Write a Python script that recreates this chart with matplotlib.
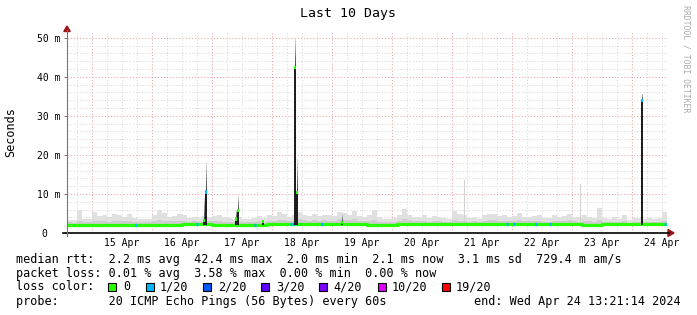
import matplotlib
matplotlib.use("Agg")
import matplotlib.pyplot as plt
import matplotlib.dates as mdates
from matplotlib.lines import Line2D
from matplotlib.patches import Polygon, Rectangle
import numpy as np
import pandas as pd

W, H = 697, 315

# graph window (rrdtool snaps the 10 day view to whole hours)
t_start = pd.Timestamp("2024-04-14 14:00")
t_end = pd.Timestamp("2024-04-24 14:00")
bin_hours = 2

# smoke and median per 2 hour bin, values in ms, one row per day
smoke_max = [
    3.4, 3.3, 5.9, 3.6, 3.7, 5.3, 4.4, 4.6, 4.0, 4.8, 4.5, 4.2,
    4.9, 3.9, 3.6, 3.7, 3.5, 4.6, 6.0, 5.2, 4.1, 4.3, 4.8, 4.6,
    3.9, 4.0, 3.8, 4.4, 4.2, 4.4, 4.6, 4.0, 3.8, 3.7, 4.1, 3.6,
    3.5, 3.9, 4.4, 3.8, 4.6, 4.4, 5.3, 4.8, 4.2, 4.5, 5.3, 4.6,
    4.4, 4.9, 4.3, 4.7, 4.5, 4.4, 5.4, 5.0, 4.5, 5.6, 4.3, 4.2,
    4.6, 5.8, 4.0, 3.5, 3.6, 3.8, 4.7, 6.2, 4.6, 4.2, 4.1, 4.6,
    3.9, 4.4, 4.0, 3.8, 3.7, 5.6, 4.8, 4.6, 3.8, 4.0, 3.7, 4.6,
    4.9, 4.8, 4.4, 4.6, 4.2, 4.3, 5.2, 4.1, 4.0, 4.3, 4.7, 3.9,
    3.8, 4.5, 4.0, 4.4, 4.8, 4.2, 4.0, 4.5, 4.1, 3.8, 6.3, 3.9,
    3.6, 4.0, 3.5, 4.6, 3.4, 3.8, 3.9, 3.7, 3.9, 3.6, 3.8, 5.3,
]
smoke_dense = [
    2.7, 2.6, 3.0, 2.8, 2.8, 3.1, 3.0, 3.2, 2.9, 3.2, 3.1, 3.0,
    3.2, 2.9, 2.8, 2.8, 2.7, 3.0, 3.3, 3.1, 3.0, 3.1, 3.2, 3.1,
    2.9, 3.0, 2.8, 3.1, 3.0, 3.0, 3.1, 2.9, 2.8, 2.8, 2.9, 2.7,
    2.7, 2.8, 3.1, 2.9, 3.2, 3.1, 3.4, 3.3, 3.1, 3.2, 3.5, 3.3,
    3.2, 3.4, 3.2, 3.3, 3.2, 3.2, 3.6, 3.4, 3.3, 3.5, 3.1, 3.1,
    3.2, 3.4, 2.9, 2.7, 2.7, 2.8, 3.2, 3.5, 3.3, 3.1, 3.0, 3.2,
    2.9, 3.1, 3.0, 2.9, 2.8, 3.3, 3.2, 3.2, 2.9, 3.0, 2.8, 3.2,
    3.3, 3.3, 3.1, 3.2, 3.0, 3.1, 3.4, 3.0, 3.0, 3.1, 3.2, 2.9,
    2.9, 3.1, 3.0, 3.1, 3.3, 3.0, 2.9, 3.1, 3.0, 2.8, 3.4, 2.9,
    2.7, 2.9, 2.7, 3.1, 2.6, 2.8, 2.9, 2.8, 2.9, 2.7, 2.8, 3.2,
]
median_rtt = [
    2.1, 2.1, 2.1, 2.0, 2.0, 2.0, 2.0, 2.0, 2.0, 2.0, 2.0, 2.0,
    2.0, 2.0, 2.0, 2.0, 2.0, 2.0, 2.0, 2.0, 2.1, 2.1, 2.1, 2.2,
    2.2, 2.2, 2.2, 2.2, 2.2, 2.1, 2.1, 2.1, 2.1, 2.1, 2.1, 2.1,
    2.1, 2.1, 2.1, 2.1, 2.2, 2.2, 2.2, 2.2, 2.2, 2.2, 2.2, 2.2,
    2.2, 2.2, 2.2, 2.2, 2.2, 2.2, 2.2, 2.2, 2.2, 2.2, 2.2, 2.2,
    2.1, 2.1, 2.0, 2.0, 2.0, 2.1, 2.2, 2.2, 2.2, 2.2, 2.2, 2.2,
    2.2, 2.2, 2.2, 2.2, 2.2, 2.2, 2.2, 2.2, 2.2, 2.2, 2.2, 2.2,
    2.3, 2.3, 2.3, 2.3, 2.3, 2.3, 2.3, 2.3, 2.3, 2.2, 2.2, 2.2,
    2.2, 2.2, 2.2, 2.2, 2.2, 2.2, 2.2, 2.1, 2.1, 2.1, 2.1, 2.2,
    2.2, 2.2, 2.2, 2.2, 2.2, 2.2, 2.2, 2.2, 2.2, 2.2, 2.2, 2.2,
]

# single rows that stick out (hours after t_start)
spike_hours = [54.4, 55.2, 67.2, 68.0, 78.0, 90.8, 91.6, 109.6, 229.6]
spike_median = [3.3, 10.5, 3.6, 5.7, 2.9, 42.4, 10.3, 2.7, 33.9]
spike_top = [9.0, 18.0, 6.0, 9.5, 3.4, 50.0, 19.0, 5.0, 35.7]
spike_loss = [0, 1, 0, 0, 0, 0, 0, 0, 1]

outlier_hours = [158.8, 205.2]
outlier_top = [13.5, 12.5]

# rows with 1/20 loss on the baseline
loss_hours = [27.2, 51.6, 74.8, 89.2, 90.0, 101.6, 175.6, 178.4, 187.2, 192.8, 238.8]

loss_labels = ["0", "1/20", "2/20", "3/20", "4/20", "10/20", "19/20"]
loss_colors = ["#26ff00", "#00b8ff", "#0059ff", "#5e00ff", "#7e00ff", "#dd00ff", "#ff0000"]

y_ticks = [0, 10, 20, 30, 40, 50]
y_tick_labels = ["0  ", "10 m", "20 m", "30 m", "40 m", "50 m"]
x_tick_labels = ["15 Apr", "16 Apr", "17 Apr", "18 Apr", "19 Apr",
                 "20 Apr", "21 Apr", "22 Apr", "23 Apr", "24 Apr"]

stats_rtt = "median rtt:  2.2 ms avg  42.4 ms max  2.0 ms min  2.1 ms now  3.1 ms sd  729.4 m am/s"
stats_loss = "packet loss: 0.01 % avg  3.58 % max  0.00 % min  0.00 % now"
probe_text = "probe:       20 ICMP Echo Pings (56 Bytes) every 60s"
end_text = "end: Wed Apr 24 13:21:14 2024"

plt.rcParams["font.family"] = ["DejaVu Sans Mono"]

x0 = mdates.date2num(t_start.to_pydatetime())


def hx(h):
    return x0 + np.asarray(h, dtype=float) / 24.0


def fx(x):
    return x / W


def fy(y):
    return 1 - y / H


fig = plt.figure(figsize=(W / 100, H / 100), dpi=100, facecolor="white")
ax = fig.add_axes([fx(67), fy(233), 600 / W, (233 - 31.5) / H])
ax.set_facecolor("white")
ax.set_xlim(hx(0), hx(240))
ax.set_ylim(0, 201.5 / 3.906)
for s in ax.spines.values():
    s.set_visible(False)

# grid, light dotted like rrdtool
major_col = "#e6a8a8"
minor_col = "#dadada"
grid_ls = (0, (1.2, 2.0))
for d in pd.date_range("2024-04-14 18:00", t_end, freq="6h"):
    xd = mdates.date2num(d.to_pydatetime())
    col = major_col if d.hour == 0 else minor_col
    ax.axvline(xd, color=col, lw=0.7, ls=grid_ls, zorder=0)
for v in range(2, 52, 2):
    col = major_col if v % 10 == 0 else minor_col
    ax.axhline(v, color=col, lw=0.7, ls=grid_ls, zorder=0)

# smoke
edges = hx(np.arange(len(smoke_max) + 1) * bin_hours)
ax.fill_between(edges, 2.0, smoke_max + smoke_max[-1:], step="post",
                color="#e0e0e0", lw=0, zorder=1)
ax.fill_between(edges, 2.0, smoke_dense + smoke_dense[-1:], step="post",
                color="#cdcdcd", lw=0, zorder=1.5)
ax.bar(hx(outlier_hours), np.array(outlier_top) - 2.0, bottom=2.0,
       width=0.4 / 24, align="edge", color="#d2d2d2", lw=0, zorder=1.2)

# median line
ax.step(edges, median_rtt + median_rtt[-1:], where="post", color=loss_colors[0],
        lw=2.3, solid_capstyle="butt", zorder=3)
for h in loss_hours:
    m = median_rtt[int(h // bin_hours)]
    ax.plot([hx(h), hx(h + 0.8)], [m, m], color=loss_colors[1], lw=2.3,
            solid_capstyle="butt", zorder=3.5)

# spikes
bw = 0.8 / 24
for h, med, top, ls in zip(spike_hours, spike_median, spike_top, spike_loss):
    xs = hx(h)
    n = 8
    for k in range(n):
        lo = med + (top - med) * k / n
        hi = med + (top - med) * (k + 1) / n
        shade = 0.25 + 0.6 * k / (n - 1)
        ax.bar(xs + 0.2 / 24, hi - lo, bottom=lo, width=0.5 / 24, align="edge",
               color=str(shade), lw=0, zorder=2.5)
    ax.bar(xs, med - 2.0, bottom=2.0, width=bw, align="edge",
           color="#1e1e1e", lw=0, zorder=3.6)
    ax.bar(xs, 0.8, bottom=med - 0.4, width=bw, align="edge",
           color=loss_colors[ls], lw=0, zorder=3.8)

# ticks
ax.set_yticks(y_ticks, y_tick_labels)
ax.tick_params(axis="y", length=2.2, width=0.7, color="#777777", pad=2.8,
               labelsize=7)
noons = pd.date_range("2024-04-15 12:00", periods=len(x_tick_labels), freq="D")
ax.set_xticks([mdates.date2num(d.to_pydatetime()) for d in noons], x_tick_labels)
ax.tick_params(axis="x", length=0, pad=3.6, labelsize=7)

# axes with arrows
fig.add_artist(Line2D([fx(63), fx(669)], [fy(233), fy(233)], color="black",
                      lw=1.2, transform=fig.transFigure))
fig.add_artist(Line2D([fx(67), fx(67)], [fy(236), fy(30)], color="#777777",
                      lw=0.8, transform=fig.transFigure))
arrow_col = "#9a1515"
fig.add_artist(Polygon([(fx(67), fy(26)), (fx(63.8), fy(31.5)), (fx(70.2), fy(31.5))],
                       closed=True, color=arrow_col, transform=fig.transFigure))
fig.add_artist(Polygon([(fx(674), fy(233)), (fx(668), fy(229.5)), (fx(668), fy(236.5))],
                       closed=True, color=arrow_col, transform=fig.transFigure))

# titles
fig.text(fx(348), fy(14), "Last 10 Days", ha="center", va="center", fontsize=9.5)
fig.text(fx(11), fy(132), "Seconds", ha="center", va="center", rotation=90,
         fontsize=8.5)
fig.text(fx(686), fy(59), "RRDTOOL / TOBI OETIKER", ha="center", va="center",
         rotation=270, fontsize=5.9, color="#aaaaaa")

# legend block
fs = 8.5
fig.text(fx(16), fy(259), stats_rtt, ha="left", va="center", fontsize=fs)
fig.text(fx(16), fy(273), stats_loss, ha="left", va="center", fontsize=fs)
fig.text(fx(16), fy(287), "loss color:", ha="left", va="center", fontsize=fs)
box_x = [108, 146, 203, 261, 319, 378, 442]
lab_x = [123, 160, 218, 276, 333, 392, 456]
for bx, lx, lab, col in zip(box_x, lab_x, loss_labels, loss_colors):
    fig.add_artist(Rectangle((fx(bx), fy(291)), 8 / W, 8 / H, facecolor=col,
                             edgecolor="black", lw=0.8, transform=fig.transFigure))
    fig.text(fx(lx), fy(287), lab, ha="left", va="center", fontsize=fs)
fig.text(fx(16), fy(301), probe_text, ha="left", va="center", fontsize=fs)
fig.text(fx(681), fy(301), end_text, ha="right", va="center", fontsize=fs)

fig.savefig("out.png", dpi=100, facecolor="white")
